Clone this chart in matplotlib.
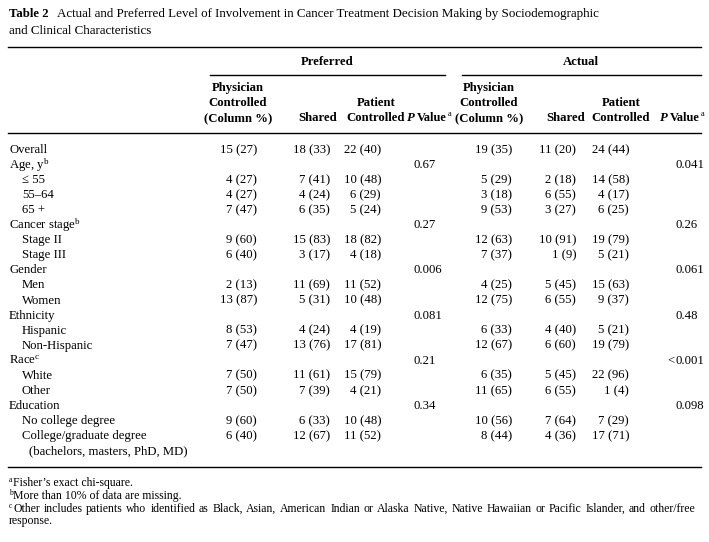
import matplotlib.pyplot as plt

plt.rcParams['font.family'] = ['Liberation Serif', 'DejaVu Serif']
plt.rcParams['mathtext.fontset'] = 'custom'
plt.rcParams['mathtext.rm'] = 'Liberation Serif'
plt.rcParams['mathtext.it'] = 'Liberation Serif:italic'
plt.rcParams['mathtext.bf'] = 'Liberation Serif:bold'

# Table content
row_labels = ["Overall", "Age, y$^{\\mathrm{b}}$", "\u2264 55", "55\u201364", "65 +",
              "Cancer stage$^{\\mathrm{b}}$", "Stage II", "Stage III",
              "Gender", "Men", "Women", "Ethnicity", "Hispanic", "Non-Hispanic",
              "Race$^{\\mathrm{c}}$", "White", "Other", "Education",
              "No college degree", "College/graduate degree",
              "(bachelors, masters, PhD, MD)"]
row_indent = [0, 0, 1, 1, 1, 0, 1, 1, 0, 1, 1, 0, 1, 1, 0, 1, 1, 0, 1, 1, 2]

pref_physician = [(15, 27), None, (4, 27), (4, 27), (7, 47), None, (9, 60), (6, 40), None,
                  (2, 13), (13, 87), None, (8, 53), (7, 47), None, (7, 50), (7, 50), None,
                  (9, 60), (6, 40), None]
pref_shared = [(18, 33), None, (7, 41), (4, 24), (6, 35), None, (15, 83), (3, 17), None,
               (11, 69), (5, 31), None, (4, 24), (13, 76), None, (11, 61), (7, 39), None,
               (6, 33), (12, 67), None]
pref_patient = [(22, 40), None, (10, 48), (6, 29), (5, 24), None, (18, 82), (4, 18), None,
                (11, 52), (10, 48), None, (4, 19), (17, 81), None, (15, 79), (4, 21), None,
                (10, 48), (11, 52), None]
act_physician = [(19, 35), None, (5, 29), (3, 18), (9, 53), None, (12, 63), (7, 37), None,
                 (4, 25), (12, 75), None, (6, 33), (12, 67), None, (6, 35), (11, 65), None,
                 (10, 56), (8, 44), None]
act_shared = [(11, 20), None, (2, 18), (6, 55), (3, 27), None, (10, 91), (1, 9), None,
              (5, 45), (6, 55), None, (4, 40), (6, 60), None, (5, 45), (6, 55), None,
              (7, 64), (4, 36), None]
act_patient = [(24, 44), None, (14, 58), (4, 17), (6, 25), None, (19, 79), (5, 21), None,
               (15, 63), (9, 37), None, (5, 21), (19, 79), None, (22, 96), (1, 4), None,
               (7, 29), (17, 71), None]

p_rows = [1, 5, 8, 11, 14, 17]
pref_p = ["0.67", "0.27", "0.006", "0.081", "0.21", "0.34"]
act_p = ["0.041", "0.26", "0.061", "0.48", "<0.001", "0.098"]

footnote_marks = ["a", "b", "c", ""]
footnotes = ["Fisher\u2019s exact chi-square.",
             "More than 10% of data are missing.",
             "Other includes patients who identified as Black, Asian, American Indian "
             "or Alaska Native, Native Hawaiian or Pacific Islander, and other/free",
             "response."]

# Layout (pixel coordinates)
fig = plt.figure(figsize=(7.09, 5.42), dpi=100)
ax = fig.add_axes([0, 0, 1, 1])
ax.set_xlim(0, 709)
ax.set_ylim(542, 0)
ax.axis('off')

fs = 9.2
ax.text(9, 14, "Table 2", fontsize=fs, fontweight='bold', va='center')
ax.text(57, 14, "Actual and Preferred Level of Involvement in Cancer Treatment Decision Making "
        "by Sociodemographic", fontsize=9.4, va='center')
ax.text(9, 31, "and Clinical Characteristics", fontsize=9.4, va='center')

left, right = 8, 701
ax.plot([left, right], [47, 47], color='black', lw=1.0)
ax.plot([left, right], [133, 133], color='black', lw=1.0)
ax.plot([left, right], [467, 467], color='black', lw=1.0)
ax.plot([210, 445], [75, 75], color='black', lw=1.0)
ax.plot([462, 701], [75, 75], color='black', lw=1.0)

ax.text(327, 62, "Preferred", fontsize=fs, fontweight='bold', ha='center', va='center')
ax.text(581, 62, "Actual", fontsize=fs, fontweight='bold', ha='center', va='center')

hdr_y = [88, 103, 118]
for cx, pcol in [([238, 318, 376], 408), ([489, 566, 621], 661)]:
    ax.text(cx[0], hdr_y[0], "Physician", fontsize=fs, fontweight='bold', ha='center', va='center')
    ax.text(cx[0], hdr_y[1], "Controlled", fontsize=fs, fontweight='bold', ha='center', va='center')
    ax.text(cx[0], hdr_y[2], "(Column %)", fontsize=fs, fontweight='bold', ha='center', va='center')
    ax.text(cx[1], hdr_y[2], "Shared", fontsize=fs, fontweight='bold', ha='center', va='center')
    ax.text(cx[2], hdr_y[1], "Patient", fontsize=fs, fontweight='bold', ha='center', va='center')
    ax.text(cx[2], hdr_y[2], "Controlled", fontsize=fs, fontweight='bold', ha='center', va='center')
    ax.text(pcol + 7, hdr_y[2], "P", fontsize=fs, fontweight='bold', style='italic',
            ha='right', va='center')
    ax.text(pcol + 9, hdr_y[2], "Value", fontsize=8.9, fontweight='bold',
            ha='left', va='center')
    ax.text(pcol + 39.5, hdr_y[2] - 4, "a", fontsize=6, ha='left', va='center')

row_y0, row_dy = 150, 15.05
indent_px = [9, 22, 29]
for i, label in enumerate(row_labels):
    ax.text(indent_px[row_indent[i]], row_y0 + i * row_dy, label, fontsize=fs, va='center')

columns = [(pref_physician, 257), (pref_shared, 330), (pref_patient, 381),
           (act_physician, 512), (act_shared, 576), (act_patient, 629)]
for values, xr in columns:
    for i, v in enumerate(values):
        if v is not None:
            ax.text(xr, row_y0 + i * row_dy, f"{v[0]} ({v[1]})", fontsize=fs,
                    ha='right', va='center')

for vals, xl in [(pref_p, 414), (act_p, 675)]:
    for r, p in zip(p_rows, vals):
        y = row_y0 + r * row_dy
        if p.startswith('<'):
            ax.text(xl, y, p[1:], fontsize=fs, ha='left', va='center')
            ax.text(xl - 1, y, "<", fontsize=fs, ha='right', va='center')
        else:
            ax.text(xl, y, p, fontsize=fs, ha='left', va='center')

# footnotes; the wrapped line is justified to the full width
fsn = 8.5
fn_y = [483, 496, 509, 521]
renderer = fig.canvas.get_renderer()
for k, (y, mark, t) in enumerate(zip(fn_y, footnote_marks, footnotes)):
    x0 = 9
    if mark:
        ax.text(x0, y - 3, mark, fontsize=5.5, ha='left', va='center')
        x0 = 13
    if k != 2:
        ax.text(x0, y, t, fontsize=fsn, va='center')
        continue
    words = t.split(' ')
    items = [ax.text(0, y, w, fontsize=fsn, va='center') for w in words]
    widths = [it.get_window_extent(renderer).width for it in items]
    gap = (695 - x0 - sum(widths)) / (len(words) - 1)
    x = x0
    for it, w in zip(items, widths):
        it.set_x(x)
        x += w + gap

fig.savefig('out.png', dpi=100)
